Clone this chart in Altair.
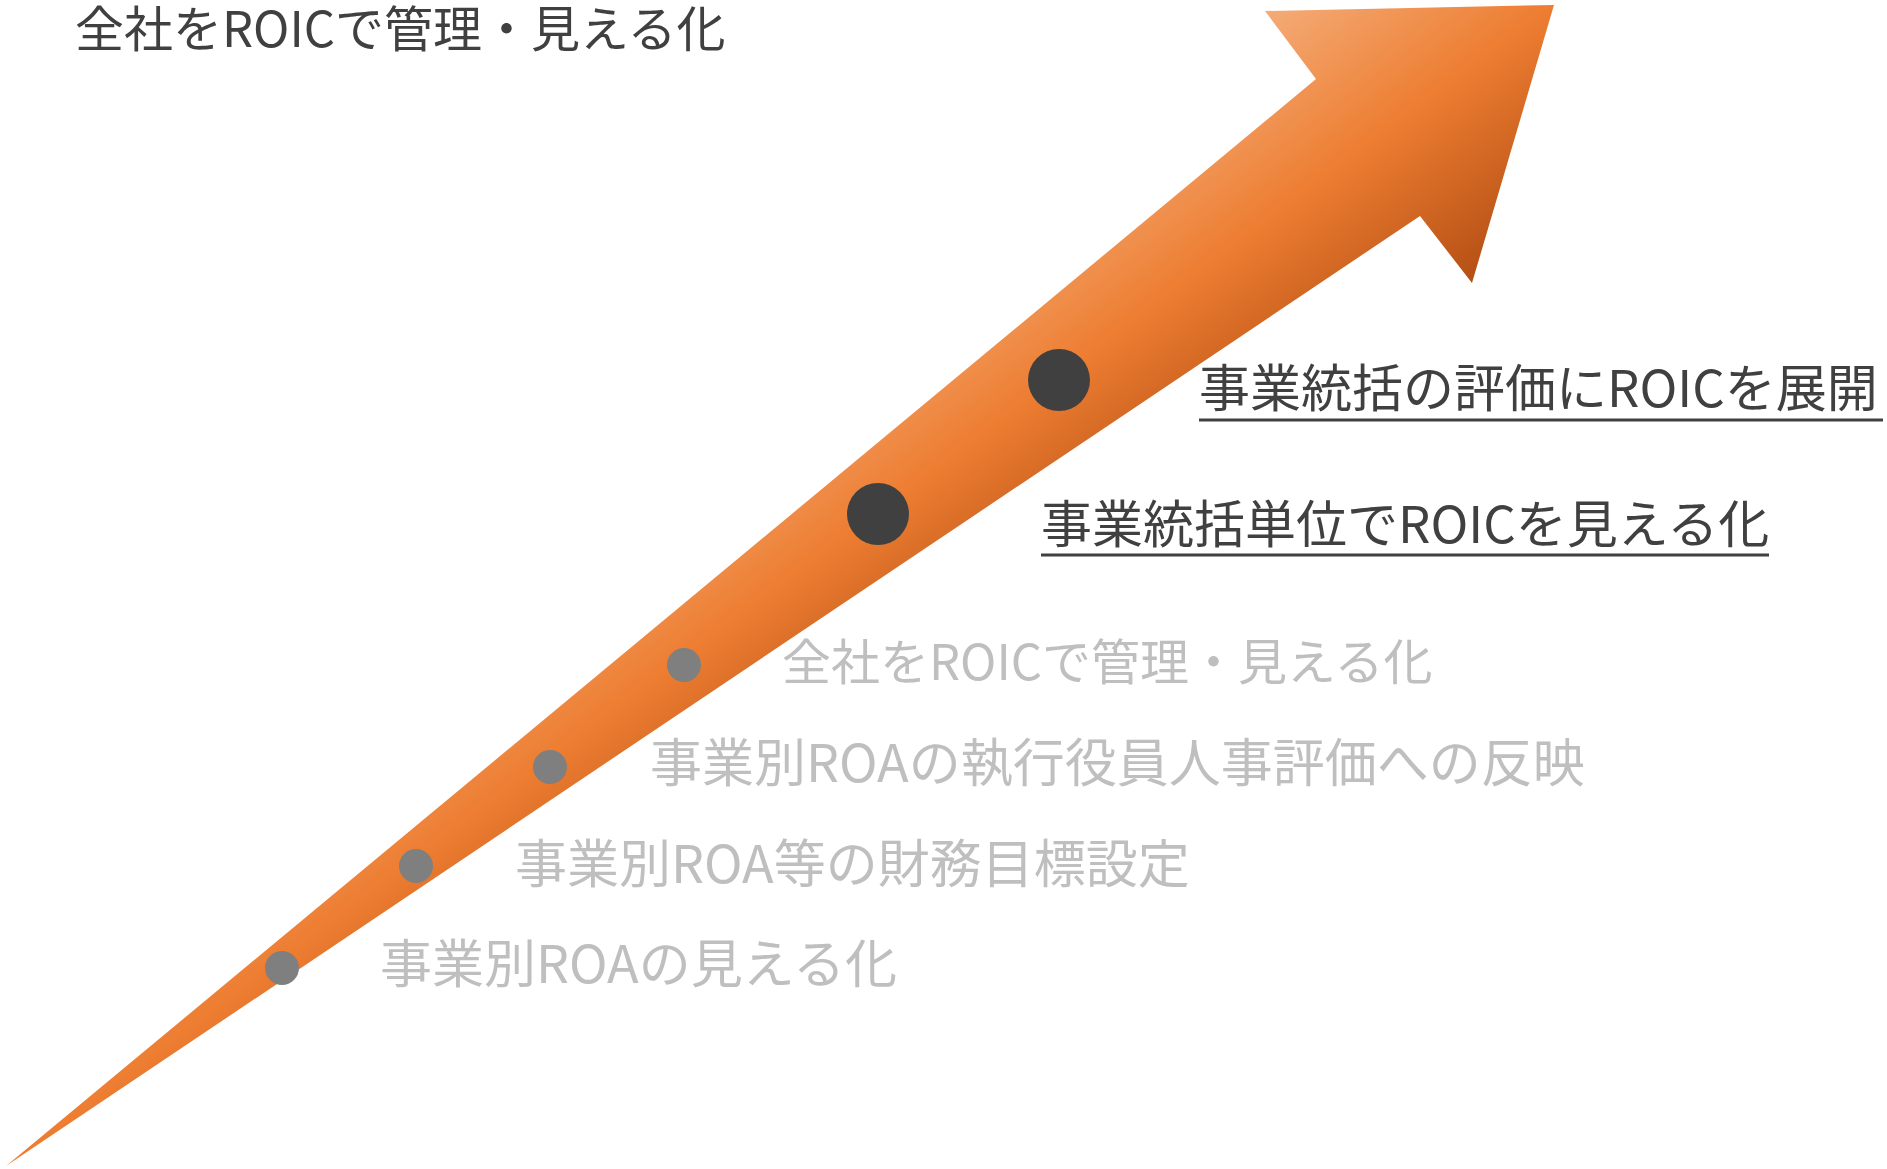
import altair as alt
import pandas as pd

W, H = 1887, 1169

# Arrow outline (tail -> upper notch -> head corner -> tip -> head bottom -> lower notch -> tail)
arrow_x = [6, 1316, 1265, 1554, 1472, 1420, 6]
arrow_y = [1166, 79, 11, 5, 283, 216, 1166]

# Milestones along the arrow
labels = [
    "事業別ROAの見える化",
    "事業別ROA等の財務目標設定",
    "事業別ROAの執行役員人事評価への反映",
    "全社をROICで管理・見える化",
    "事業統括単位でROICを見える化",
    "事業統括の評価にROICを展開",
]
stage = ["past", "past", "past", "past", "current", "current"]
dot_x = [282, 416, 550, 684, 878, 1059]
dot_y = [968, 866, 767, 665, 514, 380]
label_x = [380, 515, 650, 782, 1041, 1199]
label_y = [967, 867, 766, 665, 528, 392]
underline_end = [None, None, None, None, 1769, 1883]
underline_y = [None, None, None, None, 555, 420]

title_text = ["全社をROICで管理・見える化"]
title_x = [75]
title_y = [32]

arrow_df = pd.DataFrame({"i": list(range(len(arrow_x))), "x": arrow_x, "y": arrow_y})
ms_df = pd.DataFrame({
    "label": labels, "stage": stage, "dx": dot_x, "dy": dot_y,
    "lx": label_x, "ly": label_y, "ux": underline_end, "uy": underline_y,
})
title_df = pd.DataFrame({"t": title_text, "x": title_x, "y": title_y})

xs = alt.Scale(domain=[0, W], nice=False, zero=False)
ys = alt.Scale(domain=[0, H], nice=False, zero=False, reverse=True)
FONT = "Noto Sans CJK JP"

grad = alt.Gradient(
    gradient="linear",
    stops=[
        alt.GradientStop(color="#F5B07E", offset=0.40),
        alt.GradientStop(color="#ED7D31", offset=0.50),
        alt.GradientStop(color="#B04C12", offset=0.60),
    ],
    x1=0, y1=0, x2=1, y2=1,
)

arrow = alt.Chart(arrow_df).mark_line(fill=grad, strokeOpacity=0, strokeWidth=0).encode(
    x=alt.X("x:Q", scale=xs, axis=None),
    y=alt.Y("y:Q", scale=ys, axis=None),
    order=alt.Order("i:Q"),
)

base = alt.Chart(ms_df)

dots_past = base.transform_filter("datum.stage == 'past'").mark_circle(
    size=1156, color="#7F7F7F", opacity=1
).encode(x=alt.X("dx:Q", scale=xs, axis=None), y=alt.Y("dy:Q", scale=ys, axis=None))

dots_cur = base.transform_filter("datum.stage == 'current'").mark_circle(
    size=3844, color="#404040", opacity=1
).encode(x=alt.X("dx:Q", scale=xs, axis=None), y=alt.Y("dy:Q", scale=ys, axis=None))

fs_cond = alt.condition("indexof(datum.label, '・') >= 0", alt.value(49), alt.value(52))

text_past = base.transform_filter("datum.stage == 'past'").mark_text(
    align="left", baseline="middle", font=FONT, color="#BFBFBF"
).encode(
    x=alt.X("lx:Q", scale=xs, axis=None), y=alt.Y("ly:Q", scale=ys, axis=None),
    text="label:N", size=fs_cond,
)

text_cur = base.transform_filter("datum.stage == 'current'").mark_text(
    align="left", baseline="middle", font=FONT, fontSize=51, color="#404040"
).encode(x=alt.X("lx:Q", scale=xs, axis=None), y=alt.Y("ly:Q", scale=ys, axis=None), text="label:N")

underline = base.transform_filter("datum.stage == 'current'").mark_rule(
    color="#404040", strokeWidth=3
).encode(
    x=alt.X("lx:Q", scale=xs, axis=None), x2="ux:Q",
    y=alt.Y("uy:Q", scale=ys, axis=None),
)

title = alt.Chart(title_df).mark_text(
    align="left", baseline="middle", font=FONT, fontSize=49, color="#404040"
).encode(x=alt.X("x:Q", scale=xs, axis=None), y=alt.Y("y:Q", scale=ys, axis=None), text="t:N")

chart = alt.layer(arrow, dots_past, dots_cur, text_past, text_cur, underline, title).properties(
    width=W, height=H, padding=0, autosize=alt.AutoSizeParams(type="none"), background="white"
).configure_view(stroke=None)

chart.save("out.html", embed_options={"renderer": "svg", "actions": False})
